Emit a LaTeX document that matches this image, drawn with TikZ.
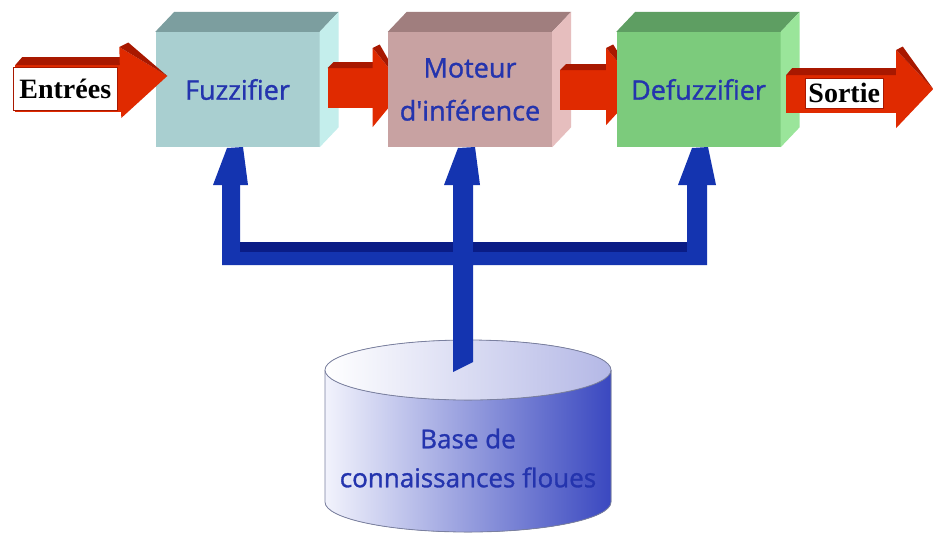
\documentclass[tikz,border=0pt]{standalone}
\usepackage{fontspec}
\setmainfont{Liberation Serif}
\newfontfamily\handfont[FakeBold=1.2]{Open Sans}
\usetikzlibrary{calc}
\definecolor{fuzF}{HTML}{A9CFD0}
\definecolor{fuzT}{HTML}{7C9E9F}
\definecolor{fuzS}{HTML}{C4EEEC}
\definecolor{motF}{HTML}{C8A2A2}
\definecolor{motT}{HTML}{A07E7E}
\definecolor{motS}{HTML}{E6BEBE}
\definecolor{defF}{HTML}{7CCB7C}
\definecolor{defT}{HTML}{5E9E62}
\definecolor{defS}{HTML}{9AE59A}
\definecolor{redF}{HTML}{E02A00}
\definecolor{redT}{HTML}{A81800}
\definecolor{bluF}{HTML}{1434B0}
\definecolor{bluT}{HTML}{0A1C86}
\definecolor{txtB}{HTML}{2434AE}
\definecolor{cylR}{HTML}{3A48C0}
\definecolor{cylM}{HTML}{B4B8E6}
\definecolor{cylL}{HTML}{F2F3FC}
\definecolor{cylO}{HTML}{7A80A0}
\newcommand\boxfaces[3]{%
  \fill[#2] (#1.north west) -- ++(19,-20) -- ($(#1.north east)+(19,-20)$) -- (#1.north east) -- cycle;
  \fill[#3] (#1.north east) -- ++(19,-20) -- ($(#1.south east)+(19,-20)$) -- (#1.south east) -- cycle;}
\begin{document}
\begin{tikzpicture}[x=1pt,y=-1pt,
  box/.style={rectangle, minimum width=164pt, minimum height=115pt, inner sep=0pt,
    font=\handfont\fontsize{27}{43}\selectfont, text=txtB, align=center},
  lbl/.style={rectangle, fill=white, draw=redT, line width=0.8pt, inner sep=0pt,
    font=\bfseries\fontsize{28}{30}\selectfont},
  shaft/.style={fill=redF}, shafttop/.style={fill=redT}]
\useasboundingbox (0,0) rectangle (933,539);
\fill[white] (0,0) rectangle (933,539);

% Fuzzifier
\node[box, fill=fuzF] (F) at (237.5,89.5) {\raisebox{-3pt}{Fuzzifier}};
\boxfaces{F}{fuzT}{fuzS}

% Entrees arrow
\begin{scope}[shift={(F.west)}]
  \fill[shaft] (-140,-24.5) -- (-34,-24.5) -- (-34,22.5) -- (-140,22.5) -- cycle;
  \fill[shafttop] (-140,-24.5) -- (-133,-32.5) -- (-28,-32.5) -- (-34,-24.5) -- cycle;
  \fill[shaft] (-36,-42.5) -- (12,-13.5) -- (-34,28.5) -- cycle;
  \fill[shafttop] (-36,-42.5) -- (-27,-47) -- (12,-13.5) -- cycle;
  \node[lbl, minimum width=104pt, minimum height=43pt] (in) at (-90,-1) {Entrées};
\end{scope}

% Fuzzifier -> Moteur
\begin{scope}[shift={(F.east)}]
  \fill[shaft] (8,-21.5) -- (54,-21.5) -- (54,18.5) -- (8,18.5) -- cycle;
  \fill[shafttop] (8,-21.5) -- (14,-27.5) -- (58,-27.5) -- (54,-21.5) -- cycle;
  \fill[shaft] (53,-41.5) -- (85,-1.5) -- (53,37.5) -- cycle;
  \fill[shafttop] (53,-41.5) -- (60,-45) -- (85,-1.5) -- cycle;
\end{scope}

% Moteur
\node[box, fill=motF] (M) at (470,89.5) {Moteur\\d'inférence};
\boxfaces{M}{motT}{motS}

% Moteur -> Defuzzifier
\begin{scope}[shift={(M.east)}]
  \fill[shaft] (8,-19.5) -- (55,-19.5) -- (55,20.5) -- (8,20.5) -- cycle;
  \fill[shafttop] (8,-19.5) -- (14,-25.5) -- (59,-25.5) -- (55,-19.5) -- cycle;
  \fill[shaft] (54,-41.5) -- (88,-1.5) -- (54,35.5) -- cycle;
  \fill[shafttop] (54,-41.5) -- (61,-45) -- (88,-1.5) -- cycle;
\end{scope}

% Defuzzifier
\node[box, fill=defF] (D) at (698.5,89.5) {\raisebox{-3pt}{Defuzzifier}};
\boxfaces{D}{defT}{defS}

% Sortie arrow
\begin{scope}[shift={(D.east)}]
  \fill[shaft] (5.5,-14.5) -- (116.5,-14.5) -- (116.5,23.5) -- (5.5,23.5) -- cycle;
  \fill[shafttop] (5.5,-14.5) -- (11.5,-21.5) -- (119.5,-21.5) -- (116.5,-14.5) -- cycle;
  \fill[shaft] (115.5,-39.5) -- (152.5,-0.5) -- (115.5,38.5) -- cycle;
  \fill[shafttop] (115.5,-39.5) -- (122,-43) -- (152.5,-0.5) -- cycle;
  \node[lbl, minimum width=78pt, minimum height=30pt] (out) at (63.5,3.5) {Sortie};
\end{scope}

% Knowledge base cylinder
\fill[left color=cylL, middle color=cylM, right color=cylR]
  (325,370) -- (325,502) arc[start angle=180, end angle=360, x radius=143pt, y radius=30pt] -- (611,370) -- cycle;
\draw[cylO, line width=0.8pt]
  (325,370) -- (325,502) arc[start angle=180, end angle=360, x radius=143pt, y radius=30pt] -- (611,370);
\filldraw[draw=cylO, line width=0.8pt, left color=white, right color=cylM] (468,370) ellipse[x radius=143pt, y radius=30pt];
\node[font=\handfont\fontsize{26}{39}\selectfont, text=txtB, align=center] (B) at (468,458) {Base de\\connaissances floues};
\coordinate (Btop) at (463,366);

% Blue distribution arrows
\fill[bluF] (222,265) -- (222,185) -- (240,185) -- (240,242) -- (453,242) -- (453,185) -- (473,185)
  -- (473,242) -- (687,242) -- (687,185) -- (707,185) -- (707,265) -- (473,265) -- (473,362)
  -- (453,372) -- (453,265) -- cycle;
\fill[bluT] (240,242) -- (453,242) -- (453,252) -- (240,252) -- cycle;
\fill[bluT] (473,242) -- (687,242) -- (687,252) -- (473,252) -- cycle;
\fill[bluF] (213,185) -- (227,148) -- (243,147) -- (248,185) -- cycle;
\fill[bluF] (444,185) -- (458,148) -- (475,147) -- (480,185) -- cycle;
\fill[bluF] (678,185) -- (692,148) -- (708,147) -- (716,185) -- cycle;
\end{tikzpicture}
\end{document}
